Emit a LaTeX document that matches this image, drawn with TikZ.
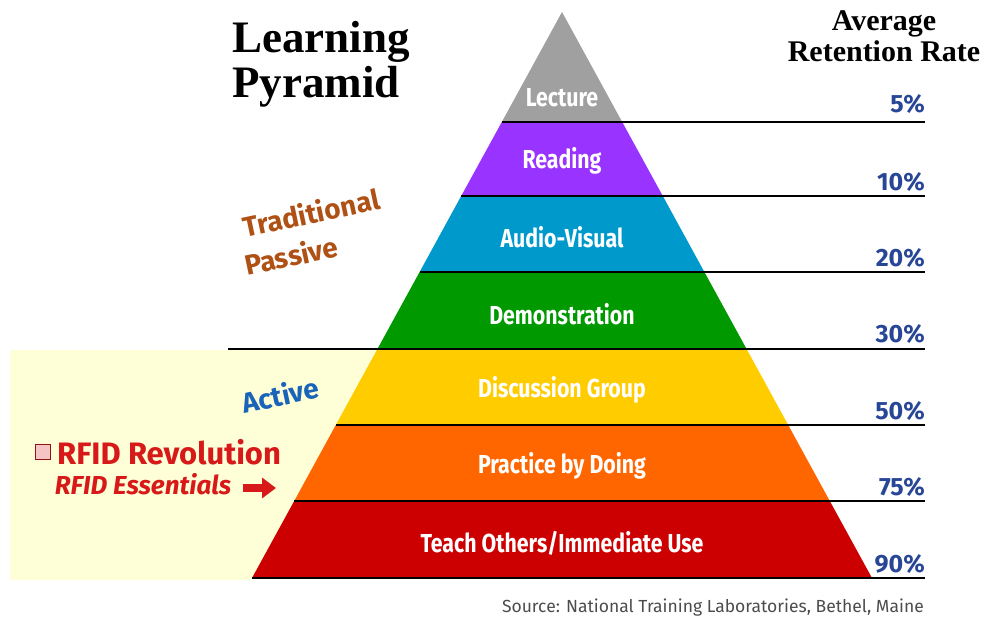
\documentclass[tikz,border=0pt]{standalone}
\usepackage{fontspec}
\setmainfont{Liberation Serif}
\newfontfamily\bandfont[FakeStretch=0.82]{Fira Sans}
\newfontfamily\sansfont{Fira Sans}
\usepackage{tikz}
\usetikzlibrary{arrows.meta}
\definecolor{lecturegray}{RGB}{160,160,160}
\definecolor{readpurple}{RGB}{153,51,255}
\definecolor{audioblue}{RGB}{0,153,204}
\definecolor{demogreen}{RGB}{0,153,0}
\definecolor{discyellow}{RGB}{255,204,0}
\definecolor{practorange}{RGB}{255,102,0}
\definecolor{teachred}{RGB}{204,0,0}
\definecolor{rateblue}{RGB}{40,70,150}
\definecolor{cream}{RGB}{255,255,215}
\definecolor{passivebrown}{RGB}{175,80,20}
\definecolor{activeblue}{RGB}{25,100,185}
\definecolor{rfidred}{RGB}{215,25,25}
\tikzstyle{band} = [text=white, font=\bandfont\bfseries\fontsize{26}{28}\selectfont]
\tikzstyle{rate} = [anchor=base east, text=rateblue, inner sep=0pt, font=\sansfont\bfseries\fontsize{25}{26}\selectfont]
\tikzstyle{level} = [line width=1.5pt]
\tikzstyle{title} = [anchor=base west, inner sep=0pt, font=\bfseries\fontsize{45}{46}\selectfont]
\tikzstyle{head} = [anchor=base, inner sep=0pt, font=\bfseries\fontsize{30}{31}\selectfont]
\tikzstyle{slanted} = [anchor=base west, rotate=12, inner sep=0pt, font=\sansfont\bfseries\fontsize{28}{30}\selectfont]

\begin{document}
\begin{tikzpicture}[x=1pt, y=-1pt]
	\useasboundingbox (0,0) rectangle (986,622);
	\fill[cream] (10,350) -- (377.4,350) -- (251,580) -- (10,580) -- cycle;

	\fill[lecturegray] (562,12) -- (622.2,122) -- (501.8,122) -- cycle;
	\fill[readpurple] (501.8,122) -- (622.2,122) -- (662.8,196) -- (461.2,196) -- cycle;
	\fill[audioblue] (461.2,196) -- (662.8,196) -- (704.4,272) -- (419.6,272) -- cycle;
	\fill[demogreen] (419.6,272) -- (704.4,272) -- (746.6,349) -- (377.4,349) -- cycle;
	\fill[discyellow] (377.4,349) -- (746.6,349) -- (788.2,425) -- (335.8,425) -- cycle;
	\fill[practorange] (335.8,425) -- (788.2,425) -- (829.8,501) -- (294.2,501) -- cycle;
	\fill[teachred] (294.2,501) -- (829.8,501) -- (872,578) -- (252,578) -- cycle;

	\draw[level] (501.8,122) -- (925,122);
	\draw[level] (461.2,196) -- (925,196);
	\draw[level] (419.6,272) -- (925,272);
	\draw[level] (228,349) -- (925,349);
	\draw[level] (335.8,425) -- (925,425);
	\draw[level] (294.2,501) -- (925,501);
	\draw[level] (252,578) -- (925,578);

	\node[band](lecture) at (562,98){Lecture};
	\node[band](reading) at (562,161){Reading};
	\node[band](audio) at (562,237){Audio-Visual};
	\node[band](demo) at (562,314){Demonstration};
	\node[band](discussion) at (562,390){Discussion Group};
	\node[band](practice) at (562,466){Practice by Doing};
	\node[band](teach) at (562,543){Teach Others/Immediate Use};

	\node[rate](r5) at (925,112){5\%};
	\node[rate](r10) at (925,190){10\%};
	\node[rate](r20) at (925,266){20\%};
	\node[rate](r30) at (925,342){30\%};
	\node[rate](r50) at (925,419){50\%};
	\node[rate](r75) at (925,495){75\%};
	\node[rate](r90) at (925,572){90\%};

	\node[title](learning) at (232,52){Learning};
	\node[title](pyramid) at (232,97){Pyramid};
	\node[head](average) at (884,30){Average};
	\node[head](retention) at (884,61){Retention Rate};

	\node[slanted, text=passivebrown](traditional) at (245,238){Traditional};
	\node[slanted, text=passivebrown](passive) at (247,276){Passive};
	\node[slanted, text=activeblue](active) at (244,414){Active};

	\node[draw=rfidred!70!black, fill=rfidred!25, line width=1pt, minimum size=15pt, inner sep=0pt](icon) at (43,452){};
	\node[anchor=west, inner sep=0pt, text=rfidred, font=\sansfont\bfseries\fontsize{31}{32}\selectfont](revolution) at (57,452){RFID Revolution};
	\node[text=rfidred, inner sep=0pt, font=\sansfont\bfseries\itshape\fontsize{26}{28}\selectfont](essentials) at (143,484){RFID Essentials};
	\coordinate (target) at (276,488);
	\draw[rfidred, line width=8pt, -{Triangle[length=14pt, width=20pt]}] (essentials.east |- target) ++(12,0) -- (target);

	\node[anchor=base east, inner sep=0pt, text=black!70, font=\sansfont\fontsize{17.5}{19}\selectfont](source) at (924,612){Source: National Training Laboratories, Bethel, Maine};
\end{tikzpicture}
\end{document}
